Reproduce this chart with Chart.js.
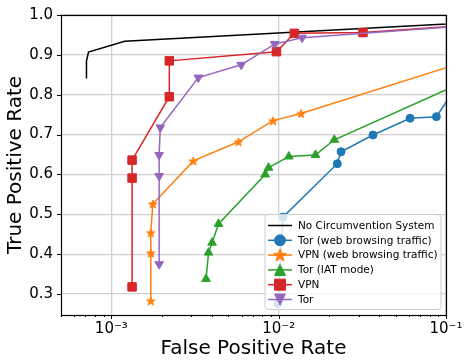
<!DOCTYPE html>
<html>
<head>
<meta charset="utf-8">
<script src="https://cdn.jsdelivr.net/npm/chart.js@4/dist/chart.umd.min.js"></script>
<style>
  html, body { margin: 0; padding: 0; background: #fff; }
  #wrap { width: 473px; height: 364px; }
</style>
</head>
<body>
<div id="wrap"><canvas id="roc" width="473" height="364"></canvas></div>
<script>
  // ROC points (false positive rate, true positive rate)
  const noCircFpr = [7.1e-4, 7.1e-4, 7.3e-4, 1.2e-3, 1];
  const noCircTpr = [0.841, 0.885, 0.907, 0.934, 1];

  const torWebFpr = [9.9e-3, 1.06e-2, 2.24e-2, 2.36e-2, 3.66e-2, 6.1e-2, 8.76e-2, 0.15, 1];
  const torWebTpr = [0.276, 0.493, 0.627, 0.657, 0.699, 0.741, 0.745, 0.89, 1];

  const vpnWebFpr = [1.72e-3, 1.72e-3, 1.72e-3, 1.77e-3, 3.09e-3, 5.75e-3, 9.25e-3, 1.36e-2, 1];
  const vpnWebTpr = [0.283, 0.403, 0.454, 0.526, 0.634, 0.682, 0.735, 0.753, 1];

  const torIatFpr = [3.68e-3, 3.81e-3, 4.0e-3, 4.37e-3, 8.3e-3, 8.7e-3, 1.15e-2, 1.66e-2, 2.15e-2, 1];
  const torIatTpr = [0.338, 0.404, 0.429, 0.476, 0.600, 0.617, 0.645, 0.649, 0.687, 1];

  const vpnFpr = [1.33e-3, 1.33e-3, 1.33e-3, 2.22e-3, 2.22e-3, 9.7e-3, 1.24e-2, 3.19e-2, 1];
  const vpnTpr = [0.318, 0.591, 0.636, 0.795, 0.885, 0.908, 0.954, 0.956, 1];

  const torFpr = [1.93e-3, 1.93e-3, 1.93e-3, 1.96e-3, 3.31e-3, 5.97e-3, 9.47e-3, 1.38e-2, 1];
  const torTpr = [0.375, 0.596, 0.649, 0.718, 0.843, 0.875, 0.927, 0.943, 1];

  const seriesNames = [
    'No Circumvention System',
    'Tor (web browsing traffic)',
    'VPN (web browsing traffic)',
    'Tor (IAT mode)',
    'VPN',
    'Tor'
  ];

  const xMajorTicks = [1e-3, 1e-2, 1e-1];
  const xTickLabels = ['10\u207B\u00B3', '10\u207B\u00B2', '10\u207B\u00B9'];
  const yTicks = [0.3, 0.4, 0.5, 0.6, 0.7, 0.8, 0.9, 1.0];

  const C = {
    black: '#000000',
    blue: '#1f77b4',
    orange: '#ff7f0e',
    green: '#2ca02c',
    red: '#d62728',
    purple: '#9467bd'
  };

  function pts(xs, ys) {
    return xs.map((x, i) => ({ x: x, y: ys[i] }));
  }

  function isMajor(v) {
    const l = Math.log10(v);
    return Math.abs(l - Math.round(l)) < 1e-6;
  }

  function starPath(ctx, cx, cy, r) {
    const inner = r * 0.4;
    ctx.beginPath();
    for (let i = 0; i < 10; i++) {
      const rr = i % 2 === 0 ? r : inner;
      const a = -Math.PI / 2 + i * Math.PI / 5;
      const px = cx + Math.cos(a) * rr;
      const py = cy + Math.sin(a) * rr;
      if (i === 0) ctx.moveTo(px, py); else ctx.lineTo(px, py);
    }
    ctx.closePath();
  }

  function makeStar(size, color) {
    const c = document.createElement('canvas');
    c.width = size; c.height = size;
    const g = c.getContext('2d');
    g.fillStyle = color;
    g.strokeStyle = color;
    g.lineWidth = 1;
    starPath(g, size / 2, size / 2 + 0.5, size / 2 - 0.5);
    g.fill();
    g.stroke();
    return c;
  }

  function marker(ctx, style, x, y, r, color) {
    ctx.save();
    ctx.fillStyle = color;
    ctx.strokeStyle = color;
    ctx.lineWidth = 1;
    ctx.beginPath();
    if (style === 'circle') {
      ctx.arc(x, y, r, 0, Math.PI * 2);
    } else if (style === 'rect') {
      ctx.rect(x - r, y - r, r * 2, r * 2);
    } else if (style === 'up') {
      ctx.moveTo(x, y - r); ctx.lineTo(x + r, y + r); ctx.lineTo(x - r, y + r); ctx.closePath();
    } else if (style === 'down') {
      ctx.moveTo(x, y + r); ctx.lineTo(x + r, y - r); ctx.lineTo(x - r, y - r); ctx.closePath();
    } else if (style === 'star') {
      starPath(ctx, x, y + 0.5, r * 1.25);
    }
    if (style) { ctx.fill(); ctx.stroke(); }
    ctx.restore();
  }

  const legendMarkers = [null, 'circle', 'star', 'up', 'rect', 'down'];
  const legendColors = [C.black, C.blue, C.orange, C.green, C.red, C.purple];

  const framePlugin = {
    id: 'frame',
    afterDraw(chart) {
      const ctx = chart.ctx;
      const a = chart.chartArea;
      const xs = chart.scales.x;
      const ys = chart.scales.y;
      ctx.save();
      ctx.strokeStyle = '#000';
      ctx.lineWidth = 1;
      // tick marks
      ctx.beginPath();
      xs.ticks.forEach(t => {
        const px = Math.round(xs.getPixelForValue(t.value)) + 0.5;
        const len = isMajor(t.value) ? 4 : 2;
        ctx.moveTo(px, a.bottom);
        ctx.lineTo(px, a.bottom + len);
      });
      ys.ticks.forEach(t => {
        const py = Math.round(ys.getPixelForValue(t.value)) + 0.5;
        ctx.moveTo(a.left, py);
        ctx.lineTo(a.left - 4, py);
      });
      ctx.stroke();
      ctx.lineWidth = 1.2;
      ctx.strokeRect(Math.round(a.left) + 0.5, Math.round(a.top) + 0.5,
        Math.round(a.right - a.left), Math.round(a.bottom - a.top));

      // legend box in the lower right corner
      const bw = 176, bh = 95;
      const bx = a.right - 5 - bw, by = a.bottom - 5.5 - bh;
      ctx.fillStyle = 'rgba(255,255,255,0.8)';
      ctx.strokeStyle = '#cccccc';
      ctx.lineWidth = 1;
      ctx.beginPath();
      if (ctx.roundRect) ctx.roundRect(bx, by, bw, bh, 3); else ctx.rect(bx, by, bw, bh);
      ctx.fill();
      ctx.stroke();

      ctx.font = '10.5px "DejaVu Sans"';
      ctx.textBaseline = 'middle';
      ctx.textAlign = 'left';
      seriesNames.forEach((name, i) => {
        const cy = by + 11 + i * 14.8;
        const col = legendColors[i];
        ctx.strokeStyle = col;
        ctx.lineWidth = 1.5;
        ctx.beginPath();
        ctx.moveTo(bx + 3, cy);
        ctx.lineTo(bx + 27, cy);
        ctx.stroke();
        marker(ctx, legendMarkers[i], bx + 15, cy, legendMarkers[i] === 'circle' ? 5.5 : 5.5, col);
        ctx.fillStyle = '#000';
        ctx.fillText(name, bx + 33, cy + 0.5);
      });
      ctx.restore();
    }
  };

  Chart.defaults.font.family = '"DejaVu Sans", sans-serif';
  Chart.defaults.color = '#000';

  const base = {
    showLine: true,
    fill: false,
    tension: 0,
    borderWidth: 1.5,
    pointBorderWidth: 1
  };

  const starIcon = makeStar(10, C.orange);

  new Chart(document.getElementById('roc'), {
    type: 'scatter',
    data: {
      datasets: [
        Object.assign({}, base, {
          label: seriesNames[0], data: pts(noCircFpr, noCircTpr),
          borderColor: C.black, backgroundColor: C.black, pointRadius: 0, order: 5
        }),
        Object.assign({}, base, {
          label: seriesNames[1], data: pts(torWebFpr, torWebTpr),
          borderColor: C.blue, backgroundColor: C.blue, pointStyle: 'circle', pointRadius: 4, order: 4
        }),
        Object.assign({}, base, {
          label: seriesNames[2], data: pts(vpnWebFpr, vpnWebTpr),
          borderColor: C.orange, backgroundColor: C.orange, pointStyle: starIcon, pointRadius: 5, order: 3
        }),
        Object.assign({}, base, {
          label: seriesNames[3], data: pts(torIatFpr, torIatTpr),
          borderColor: C.green, backgroundColor: C.green, pointStyle: 'triangle', pointRadius: 5, order: 2
        }),
        Object.assign({}, base, {
          label: seriesNames[4], data: pts(vpnFpr, vpnTpr),
          borderColor: C.red, backgroundColor: C.red, pointStyle: 'rect', pointRadius: 6, order: 1
        }),
        Object.assign({}, base, {
          label: seriesNames[5], data: pts(torFpr, torTpr),
          borderColor: C.purple, backgroundColor: C.purple, pointStyle: 'triangle', pointRotation: 180,
          pointRadius: 5, order: 0
        })
      ]
    },
    options: {
      responsive: false,
      animation: false,
      devicePixelRatio: 1,
      layout: { padding: { top: 15, right: 27, left: 0, bottom: 0 } },
      plugins: {
        legend: { display: false },
        tooltip: { enabled: false }
      },
      scales: {
        x: {
          type: 'logarithmic',
          min: 5e-4,
          max: 0.1,
          afterBuildTicks: function (scale) {
            const t = [];
            for (let e = -4; e <= -2; e++) {
              for (let m = 1; m <= 9; m++) {
                const v = m * Math.pow(10, e);
                if (v >= 5e-4 * 0.999) t.push({ value: v });
              }
            }
            t.push({ value: xMajorTicks[2] });
            scale.ticks = t;
          },
          afterFit: function (scale) { scale.height = 49; },
          border: { display: false },
          grid: {
            color: c => (c.tick && isMajor(c.tick.value)) ? '#d0d0d0' : 'rgba(0,0,0,0)',
            lineWidth: 1.3,
            tickColor: 'rgba(0,0,0,0)',
            tickLength: 4
          },
          ticks: {
            autoSkip: false,
            maxRotation: 0,
            minRotation: 0,
            padding: 1,
            font: { size: 15 },
            callback: function (v) {
              const i = xMajorTicks.findIndex(m => Math.abs(Math.log10(m) - Math.log10(v)) < 1e-6);
              return i >= 0 ? xTickLabels[i] : '';
            }
          },
          title: {
            display: true,
            text: 'False Positive Rate',
            font: { size: 20 },
            padding: { top: 0, bottom: 3 }
          }
        },
        y: {
          min: 0.2475,
          max: 1.0,
          afterBuildTicks: function (scale) {
            scale.ticks = yTicks.map(v => ({ value: v }));
          },
          afterFit: function (scale) { scale.width = 61; },
          border: { display: false },
          grid: {
            color: '#d0d0d0',
            lineWidth: 1.3,
            tickColor: 'rgba(0,0,0,0)',
            tickLength: 4
          },
          ticks: {
            padding: 4,
            font: { size: 15 },
            callback: v => Number(v).toFixed(1)
          },
          title: {
            display: true,
            text: 'True Positive Rate',
            font: { size: 20 },
            padding: { top: 4, bottom: 0 }
          }
        }
      }
    },
    plugins: [framePlugin]
  });
</script>
</body>
</html>
